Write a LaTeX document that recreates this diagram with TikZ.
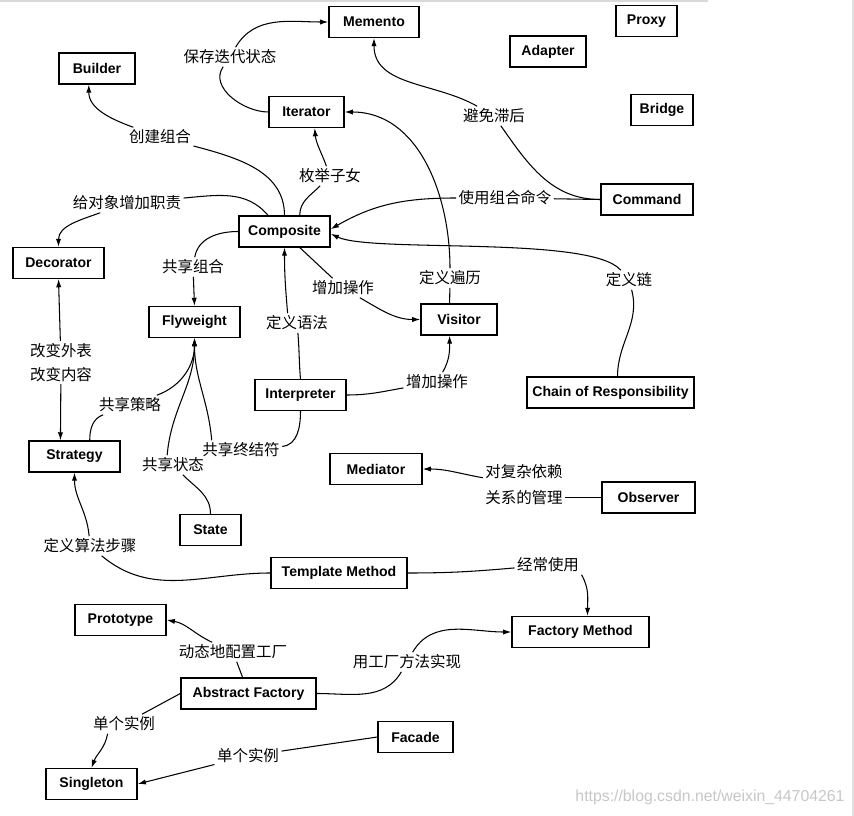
\documentclass[tikz,border=0pt]{standalone}
\usepackage{fontspec}
\newfontfamily\boxfont{Liberation Sans}
\newfontfamily\cjk{Noto Sans CJK SC}
\usetikzlibrary{arrows.meta}
\tikzset{motif/.style={draw,line width=1.2pt,minimum width=#1*0.03cm,minimum height=0.92cm,inner xsep=3pt,font=\boxfont\bfseries\fontsize{12}{14}\selectfont},motif/.default=91,etiq/.style={font=\cjk\fontsize{13.2}{20}\selectfont,inner sep=2pt,align=center},lien/.style={line width=0.9pt},fleche/.style={lien,-{Latex[length=7pt,width=4.5pt]}}}

\begin{document}
\begin{tikzpicture}[x=0.03cm,y=0.03cm]
\useasboundingbox[fill=white] (0,0) rectangle (854,-816);
\draw[black!15,line width=2pt] (0,-1)--(708,-1);
\draw[black!12,line width=1.5pt] (853,0)--(853,-816);
\node[motif=90] (memento) at (374,-22) {Memento};
\node[motif=61] (proxy) at (646.5,-21) {Proxy};
\node[motif=76] (adapter) at (548,-51.5) {Adapter};
\node[motif=76] (builder) at (97,-68.5) {Builder};
\node[motif=75] (iterator) at (306.5,-112) {Iterator};
\node[motif=62] (bridge) at (662,-110) {Bridge};
\node[motif=92] (command) at (647,-199.5) {Command};
\node[motif] (composite) at (284.5,-231.5) {Composite};
\node[motif] (decorator) at (58.5,-263) {Decorator};
\node[motif] (flyweight) at (194.5,-322) {Flyweight};
\node[motif=76] (visitor) at (459,-319.5) {Visitor};
\node[motif] (interpreter) at (300.5,-395) {Interpreter};
\node[motif=167] (chain) at (610.5,-392.5) {Chain of Responsibility};
\node[motif] (strategy) at (74.5,-456.5) {Strategy};
\node[motif=92] (mediator) at (376,-469) {Mediator};
\node[motif=93] (observer) at (648.5,-497.5) {Observer};
\node[motif=61] (state) at (210.5,-530) {State};
\node[motif=136] (template) at (339,-573) {Template Method};
\node[motif] (prototype) at (120.5,-620) {Prototype};
\node[motif=137] (factorymethod) at (580.5,-632) {Factory Method};
\node[motif=135] (abstractfactory) at (248.5,-693.5) {Abstract Factory};
\node[motif=75] (facade) at (415.5,-737) {Facade};
\node[motif] (singleton) at (91.5,-784) {Singleton};
\node[etiq] (lsave) at (230,-57) {保存迭代状态};
\node[etiq] (lavoid) at (494,-116) {避免滞后};
\node[etiq] (lbuild) at (160,-137) {创建组合};
\node[etiq] (lenum) at (330,-176) {枚举子女};
\node[etiq] (luse) at (505,-198) {使用组合命令};
\node[etiq] (ldeco) at (127,-203) {给对象增加职责};
\node[etiq] (lshare) at (193,-267) {共享组合};
\node[etiq] (ltrav) at (450,-278) {定义遍历};
\node[etiq] (lchain) at (629,-280) {定义链};
\node[etiq] (lop1) at (343,-288) {增加操作};
\node[etiq] (lsyn) at (297,-323) {定义语法};
\node[etiq] (lalt) at (61,-362.5) {改变外表\\改变内容};
\node[etiq] (lop2) at (437,-382) {增加操作};
\node[etiq] (lstrat) at (130,-405) {共享策略};
\node[etiq] (lterm) at (241,-450) {共享终结符};
\node[etiq] (lstate) at (173,-465) {共享状态};
\node[etiq,font=\cjk\fontsize{13.2}{22}\selectfont] (lmed) at (524,-485) {对复杂依赖\\关系的管理};
\node[etiq] (lstep) at (90,-546) {定义算法步骤};
\node[etiq] (loften) at (548,-565) {经常使用};
\node[etiq] (ldyn) at (233,-652) {动态地配置工厂};
\node[etiq] (lfm) at (407,-662) {用工厂方法实现};
\node[etiq] (lsing1) at (124,-724) {单个实例};
\node[etiq] (lsing2) at (248,-756) {单个实例};
\node[text=black!22,font=\boxfont\fontsize{13.5}{16}\selectfont] (mark) at (710,-797) {https://blog.csdn.net/weixin\_44704261};
\draw[lien] (iterator.west) to[out=180,in=-125] (lsave);
\draw[fleche] (lsave) to[out=60,in=180] (memento.west);
\draw[lien] (command.west) to[out=180,in=-55] (lavoid);
\draw[fleche] (lavoid) to[out=150,in=-90] (memento.south);
\draw[lien] (composite.north) to[out=90,in=-15] (lbuild);
\draw[fleche] (lbuild) to[out=160,in=-90] ([xshift=-7pt]builder.south);
\draw[lien] ([xshift=13pt]composite.north) to[out=90,in=-135] (lenum);
\draw[fleche] (lenum) to[out=110,in=-85] ([xshift=7pt]iterator.south);
\draw[lien] ([xshift=-14pt]composite.north) to[out=130,in=5] (ldeco);
\draw[fleche] (ldeco) to[out=-160,in=90] (decorator.north);
\draw[lien] (command.west) -- (luse);
\draw[fleche] (luse) to[out=180,in=30] ([yshift=2pt]composite.east);
\draw[lien] ([xshift=6pt]chain.north) to[out=90,in=-75] (lchain);
\draw[fleche] (lchain) to[out=130,in=-25,looseness=0.4] ([yshift=-2pt]composite.east);
\draw[lien] ([xshift=-8pt]visitor.north) -- (ltrav);
\draw[fleche] (ltrav) to[out=90,in=0] (iterator.east);
\draw[lien] ([xshift=13pt]composite.south) -- (lop1);
\draw[fleche] (lop1) to[out=-30,in=180] (visitor.west);
\draw[lien] (interpreter.north) to[out=95,in=-85] (lsyn);
\draw[fleche] ([xshift=-8pt]lsyn.north) to[out=95,in=-90] (composite.south);
\draw[lien] (interpreter.east) to[out=0,in=-170] (lop2);
\draw[fleche] (lop2) to[out=60,in=-90] ([xshift=-8pt]visitor.south);
\draw[lien] (composite.west) to[out=180,in=80] (lshare);
\draw[fleche] (lshare) -- (flyweight.north);
\draw[fleche] (lalt) -- (decorator.south);
\draw[fleche] (lalt) -- ([xshift=-12pt]strategy.north);
\draw[lien] ([xshift=13pt]strategy.north) to[out=90,in=-160] (lstrat);
\draw[fleche] (lstrat) to[out=20,in=-90] (flyweight.south);
\draw[lien] (state.north) to[out=90,in=-45] (lstate);
\draw[fleche] ([xshift=-5pt]lstate.north) to[out=85,in=-90] (flyweight.south);
\draw[lien] (interpreter.south) to[out=-90,in=5] (lterm);
\draw[fleche] ([xshift=-25pt]lterm.north) to[out=95,in=-90] (flyweight.south);
\draw[lien] (template.west) to[out=180,in=-40] (lstep);
\draw[fleche] (lstep) to[out=95,in=-90] (strategy.south);
\draw[lien] (template.east) to[out=0,in=185] (loften);
\draw[fleche] (loften.south east) to[out=-60,in=90] ([xshift=6pt]factorymethod.north);
\draw[lien] ([xshift=-5pt]abstractfactory.north) -- (ldyn);
\draw[fleche] (ldyn) to[out=155,in=-10] (prototype.east);
\draw[lien] (abstractfactory.east) to[out=0,in=-120] (lfm);
\draw[fleche] (lfm) to[out=60,in=180] (factorymethod.west);
\draw[lien] (abstractfactory.west) -- (lsing1);
\draw[fleche] ([xshift=-14pt]lsing1.south) to[out=-100,in=70] (singleton.north);
\draw[lien] (facade.west) -- (lsing2);
\draw[fleche] (lsing2) -- (singleton.east);
\draw[lien] (observer.west) -- (observer.west -| lmed.east);
\draw[fleche] (lmed) to[out=170,in=0] (mediator.east);
\end{tikzpicture}
\end{document}
